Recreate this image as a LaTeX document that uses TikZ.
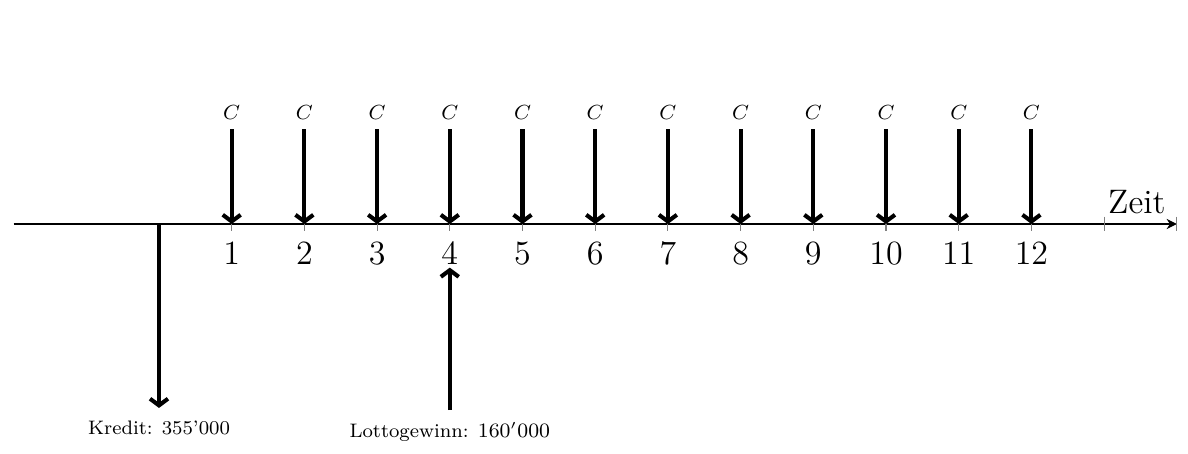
\documentclass[tikz,border=0pt]{standalone}
\usetikzlibrary{arrows.meta}
\begin{document}
\begin{tikzpicture}[
  flow/.style={ultra thick,-{Straight Barb[length=2.6pt,width=7pt]}},
  tick/.style={gray,thin},
  num/.style={font=\fontsize{13.3}{16}\selectfont,inner sep=0pt},
  clab/.style={font=\footnotesize,inner sep=0pt},
  blab/.style={font=\fontsize{7.65}{9}\selectfont,inner sep=0pt}]
\useasboundingbox (-2.187,-3.15) rectangle (14.154,3.081);
\coordinate (start) at (-2,0);
\coordinate (end) at (14,0);
\draw[-{Stealth[length=4pt,width=4pt]}] (start) -- (end);
\node[above=1pt,font=\fontsize{13.3}{16}\selectfont,inner sep=1pt] (zeit) at (13.45,0.06) {Zeit};
\foreach \i in {1,...,14} {\draw[tick] (\i,0.1) -- (\i,-0.1);}
\foreach \i in {1,...,12} {
  \node[num] (n\i) at (\i,-0.4) {\i};
  \node[clab] (c\i) at (\i,1.54) {$C$};
  \coordinate (t\i) at (\i,1.3);
  \coordinate (a\i) at (\i,0);
  \draw[flow] (t\i) -- (a\i);
}
\coordinate (k0) at (0,0);
\coordinate (k1) at (0,-2.53);
\draw[flow] (k0) -- (k1);
\node[blab] (kredit) at (0,-2.81) {Kredit: 355'000};
\coordinate (l0) at (4,-2.56);
\coordinate (l1) at (4,-0.6);
\draw[flow] (l0) -- (l1);
\node[blab] (lotto) at (4,-2.86) {Lottogewinn: $160'000$};
\end{tikzpicture}
\end{document}
